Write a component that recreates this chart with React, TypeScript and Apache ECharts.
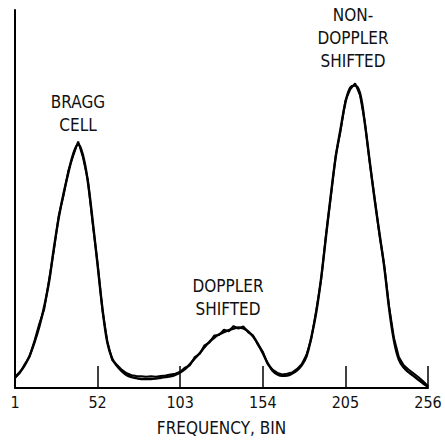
import React, { useEffect, useRef } from "react";
import * as echarts from "echarts";

// Frequency bins at which both curves are sampled
const fitBins = [
  1, 4, 7, 10, 13, 16, 19, 22, 25, 28, 31, 34, 37, 40, 43, 46, 49, 52, 55, 58,
  61, 64, 67, 70, 73, 76, 79, 82, 85, 88, 91, 94, 97, 100, 103, 106, 109, 112,
  115, 118, 121, 124, 127, 130, 133, 136, 139, 142, 145, 148, 151, 154, 157,
  160, 163, 166, 169, 172, 175, 178, 181, 184, 187, 190, 193, 196, 199, 202,
  205, 208, 211, 214, 217, 220, 223, 226, 229, 232, 235, 238, 241, 244, 247,
  250, 253, 256,
];

// Smooth fitted spectrum (relative intensity)
const fitValues = [
  2.9, 4.2, 6.0, 8.5, 12.0, 16.2, 21.5, 28, 37, 45, 51.5, 57, 62, 64.5, 61.5,
  54.5, 44, 32.5, 21, 12, 7.8, 5.8, 4.4, 3.4, 2.9, 2.6, 2.4, 2.4, 2.4, 2.5, 2.7,
  2.9, 3.1, 3.5, 4.1, 5.0, 6.3, 7.8, 9.2, 10.8, 12.2, 13.3, 14.2, 14.8, 15.3,
  15.7, 16.0, 15.8, 15.0, 13.6, 11.7, 9.2, 6.6, 4.6, 3.6, 3.2, 3.3, 3.8, 4.6,
  6.0, 8.4, 13.5, 20, 29, 40, 51, 61, 68.5, 75.5, 79.5, 80, 78, 70, 60, 50, 41,
  32, 21, 12.5, 7.5, 5.4, 4.2, 3.2, 2.2, 1.2, 0.3,
];

// Measured spectrum (relative intensity), same bins
const measuredValues = [
  2.6, 4.0, 6.3, 8.3, 12.4, 17.0, 20.8, 28.5, 36.4, 45.6, 51.0, 57.6, 61.5,
  65.2, 61.0, 55.0, 43.4, 33.0, 20.5, 12.4, 7.4, 6.1, 4.8, 3.9, 3.4, 3.2, 3.1,
  3.0, 3.1, 3.0, 3.2, 3.3, 3.6, 3.8, 4.3, 5.4, 6.0, 8.2, 9.0, 11.3, 12.0, 13.9,
  14.0, 15.4, 15.0, 16.4, 15.7, 16.3, 14.7, 13.9, 11.4, 9.6, 6.3, 4.9, 4.0, 3.6,
  3.8, 4.1, 5.0, 6.3, 8.8, 13.2, 20.6, 28.6, 40.5, 50.6, 61.5, 68.0, 76.0,
  79.0, 80.6, 77.5, 70.4, 59.6, 50.4, 40.6, 32.4, 21.5, 13.2, 8.2, 6.0, 4.9,
  3.9, 2.9, 1.8, 0.5,
];

const tickBins = [1, 52, 103, 154, 205, 256];

const FONT = "'DejaVu Sans Condensed', 'DejaVu Sans', sans-serif";

export default function App() {
  const ref = useRef<HTMLDivElement>(null);

  useEffect(() => {
    if (!ref.current) return;
    const chart = echarts.init(ref.current, null, { renderer: "svg" });

    const fitData = fitBins.map((b, i) => [b, fitValues[i]]);
    const measuredData = fitBins.map((b, i) => [b, measuredValues[i]]);

    const peakLabel = (lines: string[], x: number, y: number) => ({
      type: "text",
      x,
      y,
      style: {
        text: lines.join("\n"),
        font: `17px ${FONT}`,
        fill: "#111",
        textAlign: "center",
        textVerticalAlign: "top",
        lineHeight: 23,
      },
    });

    chart.setOption({
      animation: false,
      backgroundColor: "#fff",
      grid: { left: 15, right: 17, top: 10, bottom: 55, containLabel: false },
      xAxis: {
        type: "value",
        min: 1,
        max: 256,
        name: "FREQUENCY, BIN",
        nameLocation: "middle",
        nameGap: 31,
        nameTextStyle: { fontFamily: FONT, fontSize: 17, color: "#111" },
        axisLine: { show: true, lineStyle: { color: "#000", width: 2 } },
        axisTick: {
          show: true,
          inside: true,
          length: 22,
          customValues: tickBins,
          lineStyle: { color: "#000", width: 1.5 },
        },
        axisLabel: {
          show: true,
          customValues: tickBins,
          fontFamily: FONT,
          fontSize: 16,
          color: "#111",
          margin: 6,
        },
        splitLine: { show: false },
      },
      yAxis: {
        type: "value",
        min: 0,
        max: 100,
        axisLine: { show: true, lineStyle: { color: "#000", width: 2 } },
        axisTick: { show: false },
        axisLabel: { show: false },
        splitLine: { show: false },
      },
      series: [
        {
          name: "Fit",
          type: "line",
          data: fitData,
          smooth: 0.4,
          symbol: "none",
          lineStyle: { color: "#000", width: 2.4 },
        },
        {
          name: "Measured",
          type: "line",
          data: measuredData,
          symbol: "none",
          lineStyle: { color: "#000", width: 2 },
        },
      ],
      graphic: [
        peakLabel(["BRAGG", "CELL"], 78, 90),
        peakLabel(["DOPPLER", "SHIFTED"], 228, 274),
        peakLabel(["NON-", "DOPPLER", "SHIFTED"], 353, 3),
      ],
    });

    return () => chart.dispose();
  }, []);

  return (
    <div
      ref={ref}
      style={{ position: "absolute", left: 0, top: 0, width: 445, height: 443 }}
    />
  );
}
